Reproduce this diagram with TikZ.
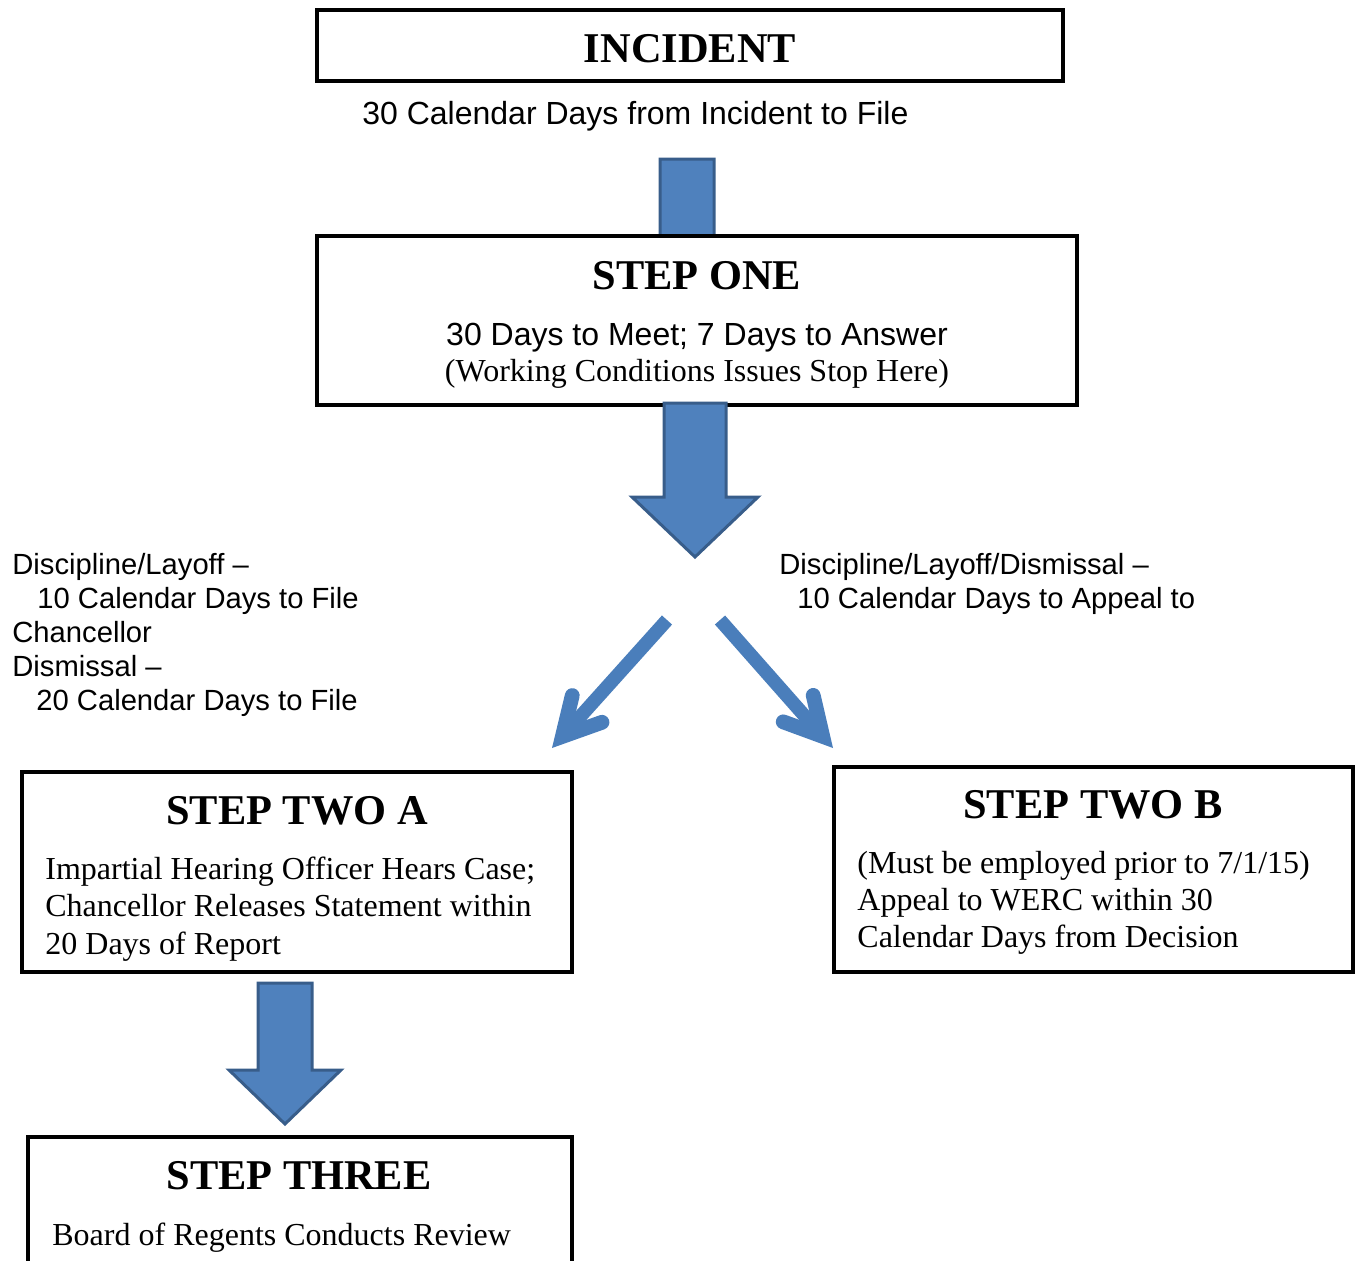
\documentclass[tikz,border=0pt]{standalone}
\usepackage{fontspec}
\setmainfont{Liberation Serif}
\newfontfamily\arialfont{Liberation Sans}
\usetikzlibrary{arrows.meta,calc}
\definecolor{arrowblue}{HTML}{4F81BD}
\definecolor{arrowedge}{HTML}{385D8A}
\definecolor{lineblue}{HTML}{4A7EBB}
\tikzset{
  stepbox/.style={draw,line width=2pt,fill=white,inner sep=0pt},
  heading/.style={font=\fontsize{21.2}{24}\selectfont\bfseries,inner sep=0pt,anchor=base},
  body/.style={font=\fontsize{16}{18.5}\selectfont,inner sep=0pt,anchor=base west},
  note/.style={font=\arialfont\fontsize{16}{17}\selectfont,inner sep=0pt,anchor=base west},
  sidenote/.style={note,font=\arialfont\fontsize{14.6}{17}\selectfont},
  blockarrow/.style={fill=arrowblue,draw=arrowedge,line width=1.5pt},
  splitarrow/.style={draw=lineblue,line width=6.8pt,
    -{Straight Barb[length=18.5pt,width=20pt,line width=7.4pt,line cap=round,line join=miter]}}
}
% #1 top, #2 tip, #3 half shaft, #4 half head, #5 head length
\newcommand{\blockdown}[5]{%
  \draw[blockarrow] ($(#1)+(-#3,0)$) -- ($(#2)+(-#3,-#5)$) -- ($(#2)+(-#4,-#5)$)
    -- (#2) -- ($(#2)+(#4,-#5)$) -- ($(#2)+(#3,-#5)$) -- ($(#1)+(#3,0)$) -- cycle;}
\begin{document}
\begin{tikzpicture}[x=0.5pt,y=-0.5pt]
\useasboundingbox (0,0) rectangle (1356,1260);
\clip (0,0) rectangle (1356,1260);
\coordinate (a1s) at (687,159);
\coordinate (a1t) at (687,300);
\blockdown{a1s}{a1t}{27}{56}{54}
% boxes
\node[stepbox,minimum width=373pt,minimum height=35.5pt] (incident) at (690,45.5) {};
\node[stepbox,minimum width=380pt,minimum height=84.5pt] (one) at (697,320.5) {};
\node[stepbox,minimum width=275pt,minimum height=100pt] (twoa) at (297,872) {};
\node[stepbox,minimum width=259.5pt,minimum height=102.5pt] (twob) at (1093.5,869.5) {};
\node[stepbox,minimum width=272pt,minimum height=80pt] (three) at (300,1217) {};
% texts
\node[heading] (incidenthd) at (690,62) {INCIDENT};
\node[note] (filenote) at (362,124) {30 Calendar Days from Incident to File};
\node[heading] (onehd) at (697,289) {STEP ONE};
\node[note,anchor=base] (onel1) at (697,345) {30 Days to Meet; 7 Days to Answer};
\node[body,anchor=base] (onel2) at (697,381) {(Working Conditions Issues Stop Here)};
\node[sidenote] (left1) at (12,574) {Discipline/Layoff –};
\node[sidenote] (left2) at (37,608) {10 Calendar Days to File};
\node[sidenote] (left3) at (12,642) {Chancellor};
\node[sidenote] (left4) at (12,676) {Dismissal –};
\node[sidenote] (left5) at (36,710) {20 Calendar Days to File};
\node[sidenote] (right1) at (779,574) {Discipline/Layoff/Dismissal –};
\node[sidenote] (right2) at (797,608) {10 Calendar Days to Appeal to};
\node[heading] (twoahd) at (297,824) {STEP TWO A};
\node[body] (twoal1) at (45,879) {Impartial Hearing Officer Hears Case;};
\node[body] (twoal2) at (45,916) {Chancellor Releases Statement within};
\node[body] (twoal3) at (45,954) {20 Days of Report};
\node[heading] (twobhd) at (1093,818) {STEP TWO B};
\node[body] (twobl1) at (857,873) {(Must be employed prior to 7/1/15)};
\node[body] (twobl2) at (857,910) {Appeal to WERC within 30};
\node[body] (twobl3) at (857,947) {Calendar Days from Decision};
\node[heading] (threehd) at (299,1189) {STEP THREE};
\node[body] (threel1) at (52,1245) {Board of Regents Conducts Review};
% arrows
\coordinate (a2s) at (695,403);
\coordinate (a2t) at (695,557);
\blockdown{a2s}{a2t}{31}{63}{60}
\coordinate (a3s) at (285,983);
\coordinate (a3t) at (285,1124);
\blockdown{a3s}{a3t}{27}{56}{54}
\coordinate (dls) at (667,620);
\coordinate (dlt) at (552,748);
\coordinate (drs) at (720,620);
\coordinate (drt) at (833,748);
\draw[splitarrow] (dls) -- (dlt);
\draw[splitarrow] (drs) -- (drt);
\end{tikzpicture}
\end{document}
